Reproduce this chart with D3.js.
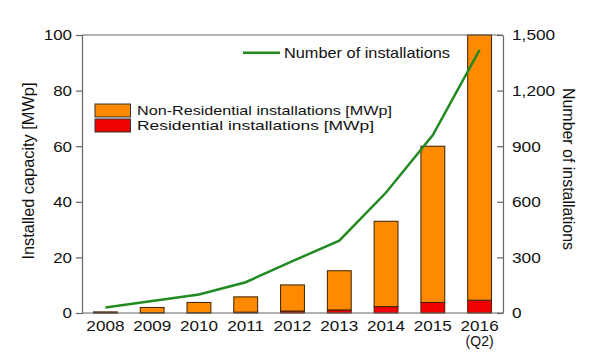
<!DOCTYPE html>
<html>
<head>
<meta charset="utf-8">
<script src="https://cdn.jsdelivr.net/npm/d3@7/dist/d3.min.js"></script>
<style>
  html, body { margin: 0; padding: 0; background: #fff; }
  svg { display: block; font-family: "Liberation Sans", Arial, sans-serif; }
</style>
</head>
<body>
<svg id="chart" width="599" height="357"></svg>
<script>
// ---- data ----
const years = ["2008", "2009", "2010", "2011", "2012", "2013", "2014", "2015", "2016"];
const residential = [0.1, 0.1, 0.1, 0.3, 0.7, 1.1, 2.3, 3.8, 4.6];
const nonResidential = [0.3, 1.9, 3.7, 5.5, 9.4, 14.1, 30.7, 56.2, 95.4];
const installations = [30, 65, 100, 166, 280, 390, 650, 960, 1420];
const leftTicks = [0, 20, 40, 60, 80, 100];
const rightTicks = [0, 300, 600, 900, 1200, 1500];

// ---- layout ----
const svg = d3.select("#chart");
const L = 82, R = 503, T = 35, B = 313;

const x = d3.scaleBand().domain(years).range([L, R]).paddingInner(0.49).paddingOuter(0.245);
const yL = d3.scaleLinear().domain([0, 100]).range([B, T]);
const yR = d3.scaleLinear().domain([0, 1500]).range([B, T]);

const axisColor = "#666";
const textColor = "#111";

function stretch(sel, k) {
  sel.each(function () {
    const w = this.getComputedTextLength();
    d3.select(this).attr("textLength", w * k).attr("lengthAdjust", "spacingAndGlyphs");
  });
}

// bars
const stacked = years.map((yr, i) => ({ yr, res: residential[i], non: nonResidential[i] }));
const barG = svg.append("g");
barG.selectAll("rect.res").data(stacked).join("rect")
  .attr("class", "res")
  .attr("x", d => x(d.yr)).attr("width", x.bandwidth())
  .attr("y", d => yL(d.res)).attr("height", d => yL(0) - yL(d.res))
  .attr("fill", "#f00000").attr("stroke", "#5a1a00").attr("stroke-width", 1);
barG.selectAll("rect.non").data(stacked).join("rect")
  .attr("class", "non")
  .attr("x", d => x(d.yr)).attr("width", x.bandwidth())
  .attr("y", d => yL(d.res + d.non)).attr("height", d => yL(d.res) - yL(d.res + d.non))
  .attr("fill", "#ff8a00").attr("stroke", "#3a2000").attr("stroke-width", 1);

// frame top
svg.append("line").attr("x1", L).attr("x2", R).attr("y1", T).attr("y2", T)
  .attr("stroke", axisColor).attr("stroke-width", 1.2);

// line
const line = d3.line()
  .x((d, i) => x(years[i]) + x.bandwidth() / 2)
  .y(d => yR(d));
svg.append("path").datum(installations)
  .attr("d", line).attr("fill", "none")
  .attr("stroke", "#218a21").attr("stroke-width", 2.5);

// left axis
const gL = svg.append("g").attr("transform", `translate(${L},0)`)
  .call(d3.axisLeft(yL).tickValues(leftTicks).tickSize(6).tickPadding(4));
gL.selectAll("path, line").attr("stroke", axisColor).attr("stroke-width", 1.2);
gL.selectAll("text").attr("font-size", 15).attr("fill", textColor).call(stretch, 1.13);

// right axis
const gR = svg.append("g").attr("transform", `translate(${R},0)`)
  .call(d3.axisRight(yR).tickValues(rightTicks).tickSizeInner(-6).tickSizeOuter(0).tickPadding(9).tickFormat(d3.format(",")));
gR.selectAll("path, line").attr("stroke", axisColor).attr("stroke-width", 1.2);
gR.selectAll("text").attr("font-size", 15).attr("fill", textColor).call(stretch, 1.15);

// bottom axis
const gB = svg.append("g").attr("transform", `translate(0,${B})`)
  .call(d3.axisBottom(x).tickSize(0).tickSizeOuter(0));
gB.select("path").attr("d", `M${L},0H${R}`).attr("stroke", axisColor).attr("stroke-width", 1.2);
gB.selectAll("text").attr("font-size", 15).attr("fill", textColor).attr("y", 18).attr("dy", 0)
  .call(stretch, 1.14);
gB.selectAll(".tick").filter(d => d === "2016").append("text")
  .attr("y", 346).attr("transform", `translate(0,${-B})`)
  .attr("text-anchor", "middle").attr("font-size", 14).attr("fill", textColor)
  .text("(Q2)");

// axis titles
svg.append("text").attr("transform", "translate(34,171) rotate(-90)")
  .attr("text-anchor", "middle").attr("font-size", 16).attr("fill", textColor)
  .attr("textLength", 177).attr("lengthAdjust", "spacingAndGlyphs")
  .text("Installed capacity [MWp]");
svg.append("text").attr("transform", "translate(563,169) rotate(90)")
  .attr("text-anchor", "middle").attr("font-size", 16).attr("fill", textColor)
  .attr("textLength", 162).attr("lengthAdjust", "spacingAndGlyphs")
  .text("Number of installations");

// legends
svg.append("line").attr("x1", 243).attr("x2", 280).attr("y1", 52.7).attr("y2", 52.7)
  .attr("stroke", "#218a21").attr("stroke-width", 2.5);
svg.append("text").attr("x", 284).attr("y", 58).attr("font-size", 15).attr("fill", textColor)
  .attr("textLength", 166).attr("lengthAdjust", "spacingAndGlyphs")
  .text("Number of installations");

const legItems = [
  { label: "Non-Residential installations [MWp]", fill: "#ff8a00", y: 104, len: 255 },
  { label: "Residential installations [MWp]", fill: "#f00000", y: 119, len: 237 }
];
const lg = svg.append("g").selectAll("g").data(legItems).join("g");
lg.append("rect").attr("x", 95).attr("y", d => d.y).attr("width", 35.5).attr("height", 13)
  .attr("fill", d => d.fill).attr("stroke", "#333").attr("stroke-width", 1);
lg.append("text").attr("x", 137).attr("y", d => d.y + 11).attr("font-size", 13.5).attr("fill", textColor)
  .attr("textLength", d => d.len).attr("lengthAdjust", "spacingAndGlyphs")
  .text(d => d.label);
</script>
</body>
</html>
